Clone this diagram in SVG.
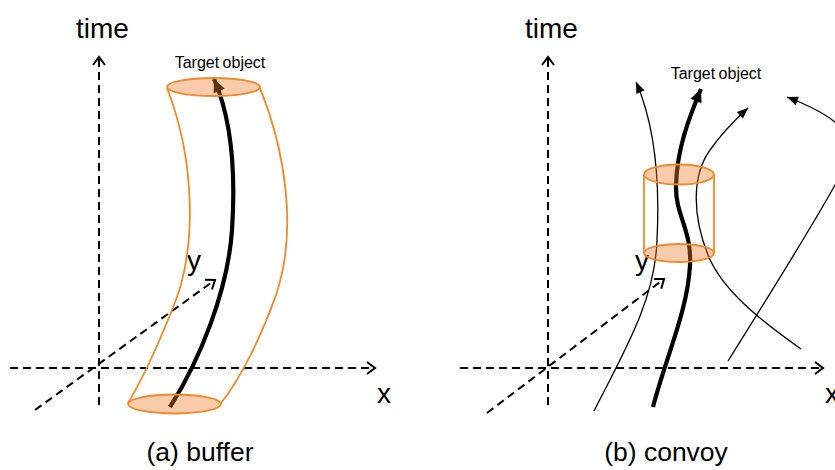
<svg xmlns="http://www.w3.org/2000/svg" width="835" height="470" viewBox="0 0 835 470">
<style>
  .axis{fill:none;stroke:#000;stroke-width:2;stroke-dasharray:8 5}
  .traj{fill:none;stroke:#000}
  .thick{stroke-width:4.2}
  .thin{stroke-width:1.3}
  .edge{fill:none;stroke:#F0892A;stroke-width:1.8}
  .cap{fill:#ED7D31;fill-opacity:0.4;stroke:#F0892A;stroke-width:1.8}
  text{font-family:"Liberation Sans",Arial,sans-serif;fill:#000}
  .big{font-size:28px}
  .caption{font-size:26.5px;text-anchor:middle}
  .target{font-size:16px;text-anchor:middle;word-spacing:-1px}
</style>
<defs>
  <marker id="chev" markerUnits="userSpaceOnUse" markerWidth="14" markerHeight="14" viewBox="-10 -7 12 14" refX="0" refY="0" orient="auto">
    <path d="M-8,-6 L0,0 L-8,6" fill="none" stroke="#000" stroke-width="2"/>
  </marker>
  <marker id="headBig" markerUnits="userSpaceOnUse" markerWidth="16" markerHeight="14" viewBox="-14 -7 16 14" refX="0" refY="0" orient="auto">
    <path d="M-13,-6 L0,0 L-13,6 Z" fill="#000"/>
  </marker>
  <marker id="headSmall" markerUnits="userSpaceOnUse" markerWidth="14" markerHeight="12" viewBox="-12 -6 14 12" refX="0" refY="0" orient="auto">
    <path d="M-11,-4.5 L0,0 L-11,4.5 Z" fill="#000"/>
  </marker>
</defs>
<rect width="835" height="470" fill="#fff"/>

<g id="axes-a">
  <path class="axis" d="M99,405 L99,57" marker-end="url(#chev)"/>
  <path class="axis" d="M10,368 L375,368" marker-end="url(#chev)"/>
  <path class="axis" d="M35,410 L215,280" marker-end="url(#chev)"/>
  <text class="big" x="76" y="38">time</text>
  <text class="big" x="377" y="403">x</text>
  <text class="big" x="187" y="270">y</text>
</g>

<g id="axes-b">
  <path class="axis" d="M548,405 L548,57" marker-end="url(#chev)"/>
  <path class="axis" d="M460,368 L823,368" marker-end="url(#chev)"/>
  <path class="axis" d="M487,413 L664,279" marker-end="url(#chev)"/>
  <text class="big" x="525" y="38">time</text>
  <text class="big" x="825" y="403">x</text>
  <text class="big" x="635" y="270">y</text>
</g>

<g id="connectors">
  <path class="traj thick" d="M170,407 C200,360 228,290 232,230 C236,170 232,120 214,79" marker-end="url(#headBig)"/>
  <path class="traj thick" d="M653,407 C665,360 688,310 690,265 C692,230 675,215 676,185 C677,150 688,120 701,89" marker-end="url(#headBig)"/>
  <path class="traj thin" d="M594,411 C625,350 655,300 657,240 C660,180 655,125 636,82" marker-end="url(#headSmall)"/>
  <path class="traj thin" d="M801,349 C760,320 722,290 708,255 C692,215 692,175 710,150 C722,133 737,118 748,108" marker-end="url(#headSmall)"/>
  <path class="traj thin" d="M728,361 C760,310 810,230 835,185 C855,150 850,130 835,122 C820,110 800,102 787,97" marker-end="url(#headSmall)"/>
</g>

<g id="tube-buffer">
  <path class="edge" d="M167,88 C195,160 198,250 172,310 C160,340 145,375 128,403"/>
  <path class="edge" d="M260,88 C285,150 298,230 276,295 C262,335 240,380 221,403"/>
  <ellipse class="cap" cx="213.5" cy="87" rx="46.5" ry="9"/>
  <ellipse class="cap" cx="174.5" cy="404" rx="46.5" ry="9.5"/>
  <text class="target" x="220" y="68">Target object</text>
</g>

<g id="cylinder-convoy">
  <line class="edge" x1="644" y1="174.5" x2="644" y2="253"/>
  <line class="edge" x1="714" y1="174.5" x2="714" y2="253"/>
  <ellipse class="cap" cx="679" cy="174.5" rx="35" ry="10"/>
  <ellipse class="cap" cx="679" cy="253" rx="35" ry="9"/>
  <text class="target" x="716" y="79">Target object</text>
</g>

<g id="captions">
  <text class="caption" x="200" y="461">(a) buffer</text>
  <text class="caption" x="666" y="461">(b) convoy</text>
</g>
</svg>
